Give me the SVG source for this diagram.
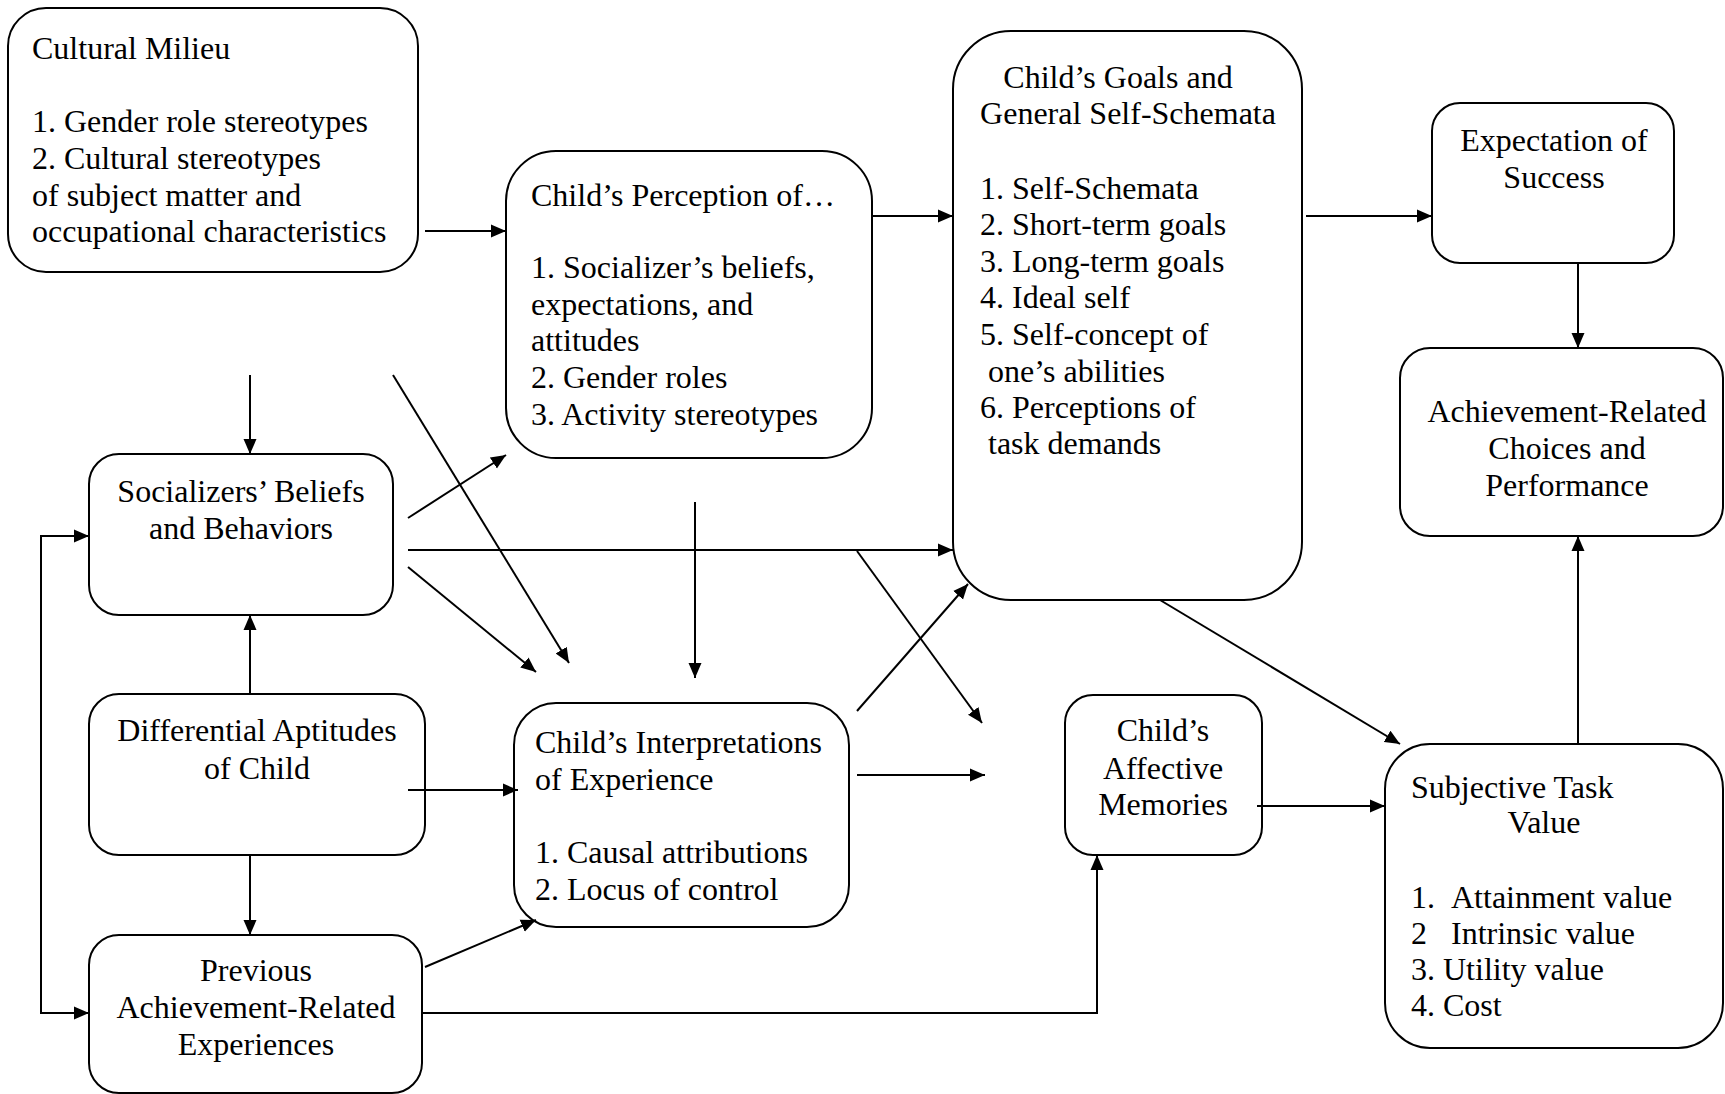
<svg xmlns="http://www.w3.org/2000/svg" width="1725" height="1094" viewBox="0 0 1725 1094">
<style>
.box{fill:#fff;stroke:#000;stroke-width:2}
.t{font-family:"Liberation Serif","Times New Roman",serif;font-size:32px;fill:#000}
.c{text-anchor:middle}
.ln{fill:none;stroke:#000;stroke-width:2}
</style>
<defs>
<marker id="arr" markerWidth="16" markerHeight="14" refX="15" refY="7" orient="auto-start-reverse" markerUnits="userSpaceOnUse">
<path d="M0,0.5 L15,7 L0,13.5 z" fill="#000"/>
</marker>
</defs>
<rect width="1725" height="1094" fill="#fff"/>

<g id="cultural-milieu">
<rect class="box" x="8" y="8" width="410" height="264" rx="38"/>
<text class="t" x="32" y="59">Cultural Milieu</text>
<text class="t" x="32" y="132">1. Gender role stereotypes</text>
<text class="t" x="32" y="169">2. Cultural stereotypes</text>
<text class="t" x="32" y="206">of subject matter and</text>
<text class="t" x="32" y="242">occupational characteristics</text>
</g>

<g id="perception">
<rect class="box" x="506" y="151" width="366" height="307" rx="50"/>
<text class="t" x="531" y="206">Child’s Perception of…</text>
<text class="t" x="531" y="278">1. Socializer’s beliefs,</text>
<text class="t" x="531" y="315">expectations, and</text>
<text class="t" x="531" y="351">attitudes</text>
<text class="t" x="531" y="388">2. Gender roles</text>
<text class="t" x="531" y="425">3. Activity stereotypes</text>
</g>

<g id="goals">
<rect class="box" x="953" y="31" width="349" height="569" rx="58"/>
<text class="t c" x="1118" y="88">Child’s Goals and</text>
<text class="t c" x="1128" y="124">General Self-Schemata</text>
<text class="t" x="980" y="199">1. Self-Schemata</text>
<text class="t" x="980" y="235">2. Short-term goals</text>
<text class="t" x="980" y="272">3. Long-term goals</text>
<text class="t" x="980" y="308">4. Ideal self</text>
<text class="t" x="980" y="345">5. Self-concept of</text>
<text class="t" x="988" y="382">one’s abilities</text>
<text class="t" x="980" y="418">6. Perceptions of</text>
<text class="t" x="988" y="454">task demands</text>
</g>

<g id="expectation">
<rect class="box" x="1432" y="103" width="242" height="160" rx="28"/>
<text class="t c" x="1554" y="151">Expectation of</text>
<text class="t c" x="1554" y="188">Success</text>
</g>

<g id="achievement-choices">
<rect class="box" x="1400" y="348" width="323" height="188" rx="30"/>
<text class="t c" x="1567" y="422">Achievement-Related</text>
<text class="t c" x="1567" y="459">Choices and</text>
<text class="t c" x="1567" y="496">Performance</text>
</g>

<g id="socializers">
<rect class="box" x="89" y="454" width="304" height="161" rx="30"/>
<text class="t c" x="241" y="502">Socializers’ Beliefs</text>
<text class="t c" x="241" y="539">and Behaviors</text>
</g>

<g id="aptitudes">
<rect class="box" x="89" y="694" width="336" height="161" rx="30"/>
<text class="t c" x="257" y="741">Differential Aptitudes</text>
<text class="t c" x="257" y="779">of Child</text>
</g>

<g id="previous">
<rect class="box" x="89" y="935" width="333" height="158" rx="30"/>
<text class="t c" x="256" y="981">Previous</text>
<text class="t c" x="256" y="1018">Achievement-Related</text>
<text class="t c" x="256" y="1055">Experiences</text>
</g>

<g id="interpretations">
<rect class="box" x="514" y="703" width="335" height="224" rx="42"/>
<text class="t" x="535" y="753">Child’s Interpretations</text>
<text class="t" x="535" y="790">of Experience</text>
<text class="t" x="535" y="863">1. Causal attributions</text>
<text class="t" x="535" y="900">2. Locus of control</text>
</g>

<g id="affective">
<rect class="box" x="1065" y="695" width="197" height="160" rx="28"/>
<text class="t c" x="1163" y="741">Child’s</text>
<text class="t c" x="1163" y="779">Affective</text>
<text class="t c" x="1163" y="815">Memories</text>
</g>

<g id="task-value">
<rect class="box" x="1385" y="744" width="338" height="304" rx="45"/>
<text class="t" x="1411" y="798">Subjective Task</text>
<text class="t c" x="1544" y="833">Value</text>
<text class="t" x="1411" y="908">1.</text><text class="t" x="1451" y="908">Attainment value</text>
<text class="t" x="1411" y="944">2</text><text class="t" x="1451" y="944">Intrinsic value</text>
<text class="t" x="1411" y="980">3. Utility value</text>
<text class="t" x="1411" y="1016">4. Cost</text>
</g>

<g id="connectors" class="ln" marker-end="url(#arr)">
<line x1="425" y1="231" x2="506" y2="231"/>
<line x1="873" y1="216" x2="953" y2="216"/>
<line x1="1306" y1="216" x2="1432" y2="216"/>
<line x1="1578" y1="263" x2="1578" y2="348"/>
<line x1="1578" y1="744" x2="1578" y2="536"/>
<line x1="1160" y1="600" x2="1400" y2="744"/>
<line x1="1257" y1="806" x2="1385" y2="806"/>
<polyline points="422,1013 1097,1013 1097,855"/>
<line x1="425" y1="967" x2="536" y2="920"/>
<line x1="408" y1="790" x2="518" y2="790"/>
<line x1="250" y1="694" x2="250" y2="615"/>
<line x1="250" y1="855" x2="250" y2="935"/>
<polyline points="89,536 41,536 41,1013 89,1013" marker-start="url(#arr)"/>
<line x1="250" y1="375" x2="250" y2="454"/>
<line x1="393" y1="375" x2="569" y2="663"/>
<line x1="408" y1="518" x2="506" y2="455"/>
<line x1="408" y1="550" x2="953" y2="550"/>
<line x1="408" y1="567" x2="536" y2="672"/>
<line x1="695" y1="502" x2="695" y2="678"/>
<line x1="857" y1="551" x2="982" y2="723"/>
<line x1="857" y1="711" x2="968" y2="584"/>
<line x1="857" y1="775" x2="985" y2="775"/>
</g>
</svg>
